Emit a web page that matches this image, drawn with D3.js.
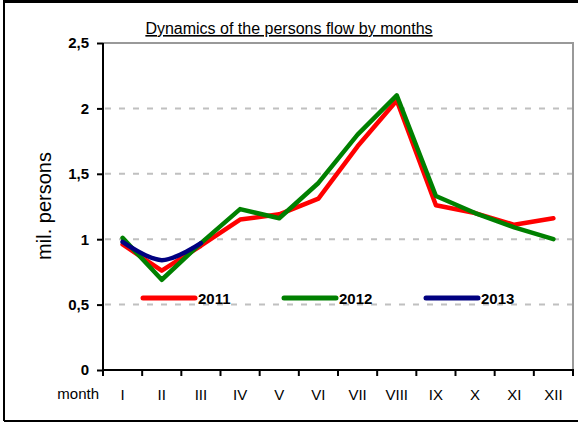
<!DOCTYPE html>
<html>
<head>
<meta charset="utf-8">
<script src="https://cdn.jsdelivr.net/npm/d3@7"></script>
<style>
  body { margin: 0; background: #fff; }
  text { font-family: Arial, "Liberation Sans", sans-serif; }
</style>
</head>
<body>
<svg id="chart" width="578" height="423"></svg>
<script>
const months = ["I", "II", "III", "IV", "V", "VI", "VII", "VIII", "IX", "X", "XI", "XII"];
const s2011 = [0.96, 0.76, 0.95, 1.15, 1.19, 1.31, 1.71, 2.06, 1.26, 1.20, 1.11, 1.16];
const s2012 = [1.01, 0.69, 0.97, 1.23, 1.16, 1.43, 1.80, 2.10, 1.33, 1.20, 1.09, 1.00];
const s2013 = [0.98, 0.84, 0.97];
const yTicks = [0, 0.5, 1, 1.5, 2, 2.5];

const series = [
  { name: "2011", values: s2011, color: "#ff0000", curve: d3.curveLinear },
  { name: "2012", values: s2012, color: "#008000", curve: d3.curveLinear },
  { name: "2013", values: s2013, color: "#000080", curve: d3.curveCatmullRom }
];

const svg = d3.select("#chart");
const plotLeft = 103, plotRight = 573, plotTop = 43, plotBottom = 370;

const x = d3.scaleBand().domain(months).range([plotLeft, plotRight]);
const y = d3.scaleLinear().domain([0, 2.5]).range([plotBottom, plotTop]);
const cx = m => x(m) + x.bandwidth() / 2;

// cadre extérieur
svg.append("line").attr("x1", 4).attr("x2", 578).attr("y1", 1.5).attr("y2", 1.5)
  .attr("stroke", "#000").attr("stroke-width", 3);
svg.append("line").attr("x1", 4).attr("x2", 4).attr("y1", 0).attr("y2", 421)
  .attr("stroke", "#000").attr("stroke-width", 2);
svg.append("line").attr("x1", 4).attr("x2", 578).attr("y1", 421).attr("y2", 421)
  .attr("stroke", "#000").attr("stroke-width", 2);

// titre
svg.append("text")
  .attr("x", 289).attr("y", 34)
  .attr("text-anchor", "middle")
  .attr("font-size", 16)
  .attr("text-decoration", "underline")
  .text("Dynamics of the persons flow by months");

// grille
svg.append("g").selectAll("line")
  .data(yTicks.filter(d => d > 0 && d < 2.5))
  .join("line")
  .attr("x1", plotLeft + 2).attr("x2", plotRight)
  .attr("y1", d => y(d)).attr("y2", d => y(d))
  .attr("stroke", "#c0c0c0").attr("stroke-width", 2)
  .attr("stroke-dasharray", "6,8");

// bord haut et droit
svg.append("path")
  .attr("d", `M${plotLeft},${y(2.5)}H${plotRight}V${plotBottom}`)
  .attr("fill", "none").attr("stroke", "#999").attr("stroke-width", 2);

// axe Y
const yAxis = svg.append("g")
  .attr("transform", `translate(${plotLeft},0)`)
  .call(d3.axisLeft(y).tickValues(yTicks).tickSize(6).tickPadding(8)
    .tickFormat(d => String(d).replace(".", ",")));
yAxis.select(".domain").attr("stroke", "#000").attr("stroke-width", 2)
  .attr("d", `M0,${plotTop}V${plotBottom}`);
yAxis.selectAll(".tick line").attr("stroke", "#000").attr("stroke-width", 2);
yAxis.selectAll(".tick text").attr("font-size", 15).attr("font-weight", "bold")
  .attr("font-family", "Arial, 'Liberation Sans', sans-serif").attr("fill", "#000");

// axe X
svg.append("line").attr("x1", plotLeft - 1).attr("x2", plotRight + 1)
  .attr("y1", plotBottom).attr("y2", plotBottom)
  .attr("stroke", "#000").attr("stroke-width", 2);
const bounds = months.map(m => x(m)).concat([x(months[months.length - 1]) + x.bandwidth()]);
svg.append("g").selectAll("line")
  .data(bounds)
  .join("line")
  .attr("x1", d => d).attr("x2", d => d)
  .attr("y1", plotBottom).attr("y2", plotBottom + 6)
  .attr("stroke", "#000").attr("stroke-width", 2);
svg.append("g").selectAll("text")
  .data(months)
  .join("text")
  .attr("x", d => cx(d)).attr("y", 400)
  .attr("text-anchor", "middle")
  .attr("font-size", 15)
  .text(d => d);
svg.append("text")
  .attr("x", 99).attr("y", 399)
  .attr("text-anchor", "end")
  .attr("font-size", 15)
  .text("month");

// titre axe Y
svg.append("text")
  .attr("transform", "translate(51,206) rotate(-90)")
  .attr("text-anchor", "middle")
  .attr("font-size", 20)
  .text("mil. persons");

// courbes
series.forEach(s => {
  const line = d3.line()
    .x((d, i) => cx(months[i]))
    .y(d => y(d))
    .curve(s.curve);
  svg.append("path")
    .datum(s.values)
    .attr("d", line)
    .attr("fill", "none")
    .attr("stroke", s.color)
    .attr("stroke-width", 4.5)
    .attr("stroke-linejoin", "round")
    .attr("stroke-linecap", "round");
});

// légende
const legendX = [143, 284, 426];
const legend = svg.append("g").selectAll("g")
  .data(series)
  .join("g")
  .attr("transform", (d, i) => `translate(${legendX[i]},298)`);
legend.append("line")
  .attr("x1", 0).attr("x2", 52)
  .attr("stroke", d => d.color).attr("stroke-width", 5)
  .attr("stroke-linecap", "round");
legend.append("text")
  .attr("x", 55).attr("y", 6)
  .attr("font-size", 15).attr("font-weight", "bold")
  .text(d => d.name);
</script>
</body>
</html>
